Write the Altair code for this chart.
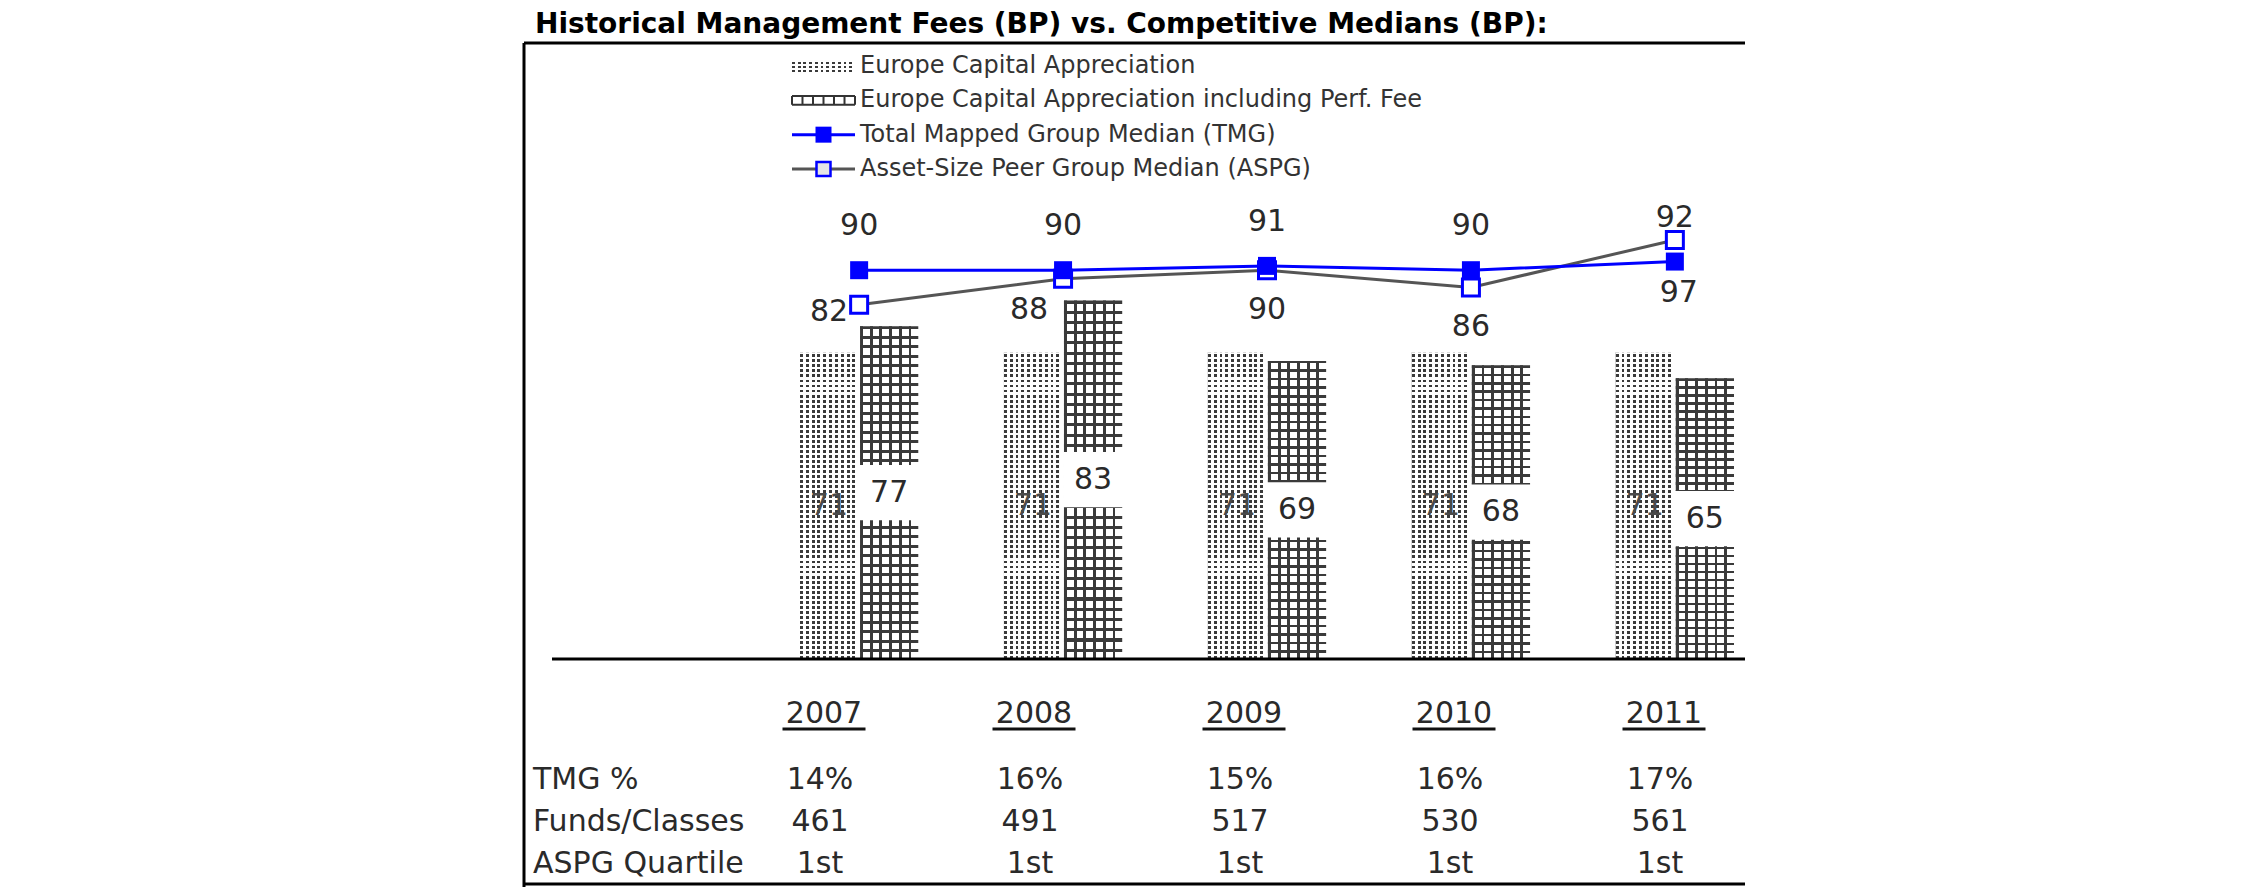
import altair as alt
import pandas as pd

# ---------------- data ----------------
years = ["2007", "2008", "2009", "2010", "2011"]
bar_names = ["Europe Capital Appreciation",
             "Europe Capital Appreciation including Perf. Fee"]
line_names = ["Total Mapped Group Median (TMG)",
              "Asset-Size Peer Group Median (ASPG)"]
eca_fee = [71, 71, 71, 71, 71]
eca_perf_fee = [77, 83, 69, 68, 65]
tmg_median = [90, 90, 91, 90, 92]
aspg_median = [82, 88, 90, 86, 97]
row_names = ["TMG %", "Funds/Classes", "ASPG Quartile"]
tmg_pct = ["14%", "16%", "15%", "16%", "17%"]
funds_classes = ["461", "491", "517", "530", "561"]
aspg_quartile = ["1st", "1st", "1st", "1st", "1st"]
chart_title = "Historical Management Fees (BP) vs. Competitive Medians (BP):"

bars = pd.DataFrame({
    "year": years * 2,
    "series": [bar_names[0]] * len(years) + [bar_names[1]] * len(years),
    "value": eca_fee + eca_perf_fee,
})
lines = pd.DataFrame({
    "year": years * 2,
    "series": [line_names[0]] * len(years) + [line_names[1]] * len(years),
    "value": tmg_median + aspg_median,
})
table = pd.DataFrame({
    "year": years * 3,
    "row": [r for r in row_names for _ in years],
    "text": tmg_pct + funds_classes + aspg_quartile,
})
header = pd.DataFrame({"year": years, "row": ["hdr"] * len(years)})
rows = pd.DataFrame({"row": row_names})
legend_names = bar_names + line_names
legend = pd.DataFrame({"series": legend_names})
one = pd.DataFrame({"k": [0]})
title_df = pd.DataFrame({"title": [chart_title]})

# ---------------- layout / style ----------------
W, H = 1221, 841
FONT = "DejaVu Sans"
TXT = "#2a2a2a"
BLUE = "#0000ff"
GREY_LINE = "#555555"


def stripes(n, duty, on, off, along_x):
    stops = []
    for i in range(n):
        a, b, c = i / n, (i + duty) / n, (i + 1) / n
        stops += [alt.GradientStop(offset=a, color=on),
                  alt.GradientStop(offset=b, color=on),
                  alt.GradientStop(offset=b, color=off),
                  alt.GradientStop(offset=min(c, 1.0), color=off)]
    if along_x:
        return alt.LinearGradient(gradient="linear", stops=stops, x1=0, x2=1, y1=0, y2=0)
    return alt.LinearGradient(gradient="linear", stops=stops, x1=0, x2=0, y1=0, y2=1)


CLEAR = "rgba(255,255,255,0)"
DOT_V = stripes(10, 0.5, "#3a3a3a", "#ffffff", True)
DOT_H = stripes(61, 0.42, "#ffffff", CLEAR, False)
GRID_V = stripes(6, 0.3, "#3a3a3a", "#ffffff", True)
GRID_H = stripes(35, 0.3, "#3a3a3a", CLEAR, False)


def yscale():
    return alt.Scale(domain=[-52.1, 142.6], nice=False, zero=False)


X = alt.X("year:N", scale=alt.Scale(type="band", domain=years, range=[276, 1210],
                                      paddingInner=0.42, paddingOuter=0), axis=None)
XO = alt.XOffset("series:N", scale=alt.Scale(domain=bar_names, paddingInner=0.03, paddingOuter=0))
YV = alt.Y("value:Q", scale=yscale(), axis=None)
YM = alt.Y("mid:Q", scale=yscale(), axis=None)
Y0 = alt.Y2(datum=0)

# ---------------- main plot ----------------
b_dot = alt.Chart(bars).transform_filter(alt.datum.series == bar_names[0])
b_grid = alt.Chart(bars).transform_filter(alt.datum.series == bar_names[1])

dot1 = b_dot.mark_bar(fill=DOT_V).encode(x=X, xOffset=XO, y=YV, y2=Y0)
dot2 = b_dot.mark_bar(fill=DOT_H).encode(x=X, xOffset=XO, y=YV, y2=Y0)
grid1 = b_grid.mark_bar(fill=GRID_V).encode(x=X, xOffset=XO, y=YV, y2=Y0)
grid2 = b_grid.mark_bar(fill=GRID_H).encode(x=X, xOffset=XO, y=YV, y2=Y0)

dot_lab = b_dot.transform_calculate(mid="datum.value / 2").mark_text(
    font=FONT, fontSize=30, color="#4a4a4a", baseline="middle").encode(
    x=X, xOffset=XO, y=YM, text="value:Q")
grid_box = b_grid.transform_calculate(mid="datum.value / 2").mark_point(
    shape="M-1,-0.92H1V0.92H-1Z", size=3600, filled=True, fill="white",
    strokeWidth=0, opacity=1).encode(x=X, xOffset=XO, y=YM)
grid_lab = b_grid.transform_calculate(mid="datum.value / 2").mark_text(
    font=FONT, fontSize=30, color=TXT, baseline="middle").encode(
    x=X, xOffset=XO, y=YM, text="value:Q")

axis_line = alt.Chart(one).mark_rule(color="black", strokeWidth=3).encode(
    x=alt.value(28), x2=alt.value(W),
    y=alt.YDatum(0, scale=yscale(), axis=None))

l_tmg = alt.Chart(lines).transform_filter(alt.datum.series == line_names[0])
l_aspg = alt.Chart(lines).transform_filter(alt.datum.series == line_names[1])

aspg_line = l_aspg.mark_line(color=GREY_LINE, strokeWidth=3).encode(x=X, y=YV)
tmg_line = l_tmg.mark_line(color=BLUE, strokeWidth=3).encode(x=X, y=YV)
aspg_pts = l_aspg.mark_point(shape="square", size=289, filled=True, fill="white",
                             stroke=BLUE, strokeWidth=3, opacity=1).encode(x=X, y=YV)
tmg_pts = l_tmg.mark_point(shape="square", size=324, filled=True, color=BLUE,
                           opacity=1).encode(x=X, y=YV)
tmg_lab = l_tmg.mark_text(font=FONT, fontSize=30, color=TXT, baseline="middle",
                          dy=-44).encode(x=X, y=YV, text="value:Q")

aspg_label_style = [("2007", -11, 7, "right"), ("2008", -15, 31, "right"),
                    ("2009", 0, 40, "center"), ("2010", 0, 40, "center"),
                    ("2011", 4, 53, "center")]
aspg_labs = [
    l_aspg.transform_filter(alt.datum.year == yr).mark_text(
        font=FONT, fontSize=30, color=TXT, baseline="middle", dx=dx, dy=dy, align=al
    ).encode(x=X, y=YV, text="value:Q")
    for yr, dx, dy, al in aspg_label_style
]

main = alt.layer(dot1, dot2, grid1, grid2, dot_lab, grid_box, grid_lab, axis_line,
                 aspg_line, tmg_line, aspg_pts, tmg_pts, tmg_lab, *aspg_labs)

# ---------------- table under the chart ----------------
XT = alt.X("year:N", scale=alt.Scale(type="point", domain=years, range=[300, 1140], padding=0),
           axis=None)
YT = alt.Y("row:N", scale=alt.Scale(type="point", domain=["hdr"] + row_names,
                                    range=[695, 821], padding=0), axis=None)

hdr_txt = alt.Chart(header).mark_text(font=FONT, fontSize=30, color=TXT, baseline="middle",
                                      dy=-24).encode(x=XT, y=YT, text="year:N")
hdr_line = alt.Chart(header).mark_tick(orient="horizontal", size=83, thickness=3,
                                       color="#111111", opacity=1, yOffset=-9).encode(x=XT, y=YT)
cells = alt.Chart(table).mark_text(font=FONT, fontSize=30, color=TXT, baseline="middle",
                                   dx=-4).encode(x=XT, y=YT, text="text:N")
row_lab = alt.Chart(rows).mark_text(font=FONT, fontSize=30, color=TXT, baseline="middle",
                                    align="left").encode(x=alt.value(9), y=YT, text="row:N")
tab = alt.layer(hdr_txt, hdr_line, cells, row_lab)

# ---------------- legend ----------------
YL = alt.Y("series:N", scale=alt.Scale(type="point", domain=legend_names, range=[23, 126],
                                       padding=0), axis=None)
SW_X = alt.value(299.5)
lg = alt.Chart(legend)
lg_dot1 = lg.transform_filter(alt.datum.series == legend_names[0]).mark_point(
    shape="M-1,-0.19H1V0.19H-1Z", size=3969, filled=True,
    fill=stripes(11, 0.5, "#3a3a3a", "#ffffff", True),
    strokeWidth=0, opacity=1).encode(x=SW_X, y=YL)
lg_dot2 = lg.transform_filter(alt.datum.series == legend_names[0]).mark_point(
    shape="M-1,-0.19H1V0.19H-1Z", size=3969, filled=True,
    fill=stripes(3, 0.42, "#ffffff", CLEAR, False),
    strokeWidth=0, opacity=1).encode(x=SW_X, y=YL)
grid_path = ("M-1,-0.14H1M-1,0.14H1" + "".join(
    "M%.3f,-0.14V0.14" % (-1 + k / 3) for k in range(7)))
lg_grid = lg.transform_filter(alt.datum.series == legend_names[1]).mark_point(
    shape=grid_path, size=3969, filled=False, stroke="#333333", strokeWidth=2,
    opacity=1).encode(x=SW_X, y=YL)
lg_tmg_line = lg.transform_filter(alt.datum.series == legend_names[2]).mark_point(
    shape="M-1,0H1", size=3969, filled=False, stroke=BLUE, strokeWidth=3,
    opacity=1).encode(x=SW_X, y=YL)
lg_tmg_pt = lg.transform_filter(alt.datum.series == legend_names[2]).mark_point(
    shape="square", size=256, filled=True, color=BLUE, opacity=1).encode(x=SW_X, y=YL)
lg_aspg_line = lg.transform_filter(alt.datum.series == legend_names[3]).mark_point(
    shape="M-1,0H1", size=3969, filled=False, stroke=GREY_LINE, strokeWidth=3,
    opacity=1).encode(x=SW_X, y=YL)
lg_aspg_pt = lg.transform_filter(alt.datum.series == legend_names[3]).mark_point(
    shape="square", size=196, filled=True, fill="#e6e6e6", stroke=BLUE, strokeWidth=2.5,
    opacity=1).encode(x=SW_X, y=YL)
lg_txt = lg.mark_text(font=FONT, fontSize=24, color="#333333", align="left",
                      baseline="middle").encode(x=alt.value(336), y=YL, text="series:N")
leg = alt.layer(lg_dot1, lg_dot2, lg_grid, lg_tmg_line, lg_tmg_pt, lg_aspg_line,
                lg_aspg_pt, lg_txt)

# ---------------- frame and title ----------------
frame = alt.layer(
    alt.Chart(one).mark_rule(color="black", strokeWidth=3).encode(
        x=alt.value(0), y=alt.value(0), y2=alt.value(H + 4)),
    alt.Chart(one).mark_rule(color="black", strokeWidth=3).encode(
        x=alt.value(0), x2=alt.value(W), y=alt.value(0)),
    alt.Chart(one).mark_rule(color="black", strokeWidth=3).encode(
        x=alt.value(0), x2=alt.value(W), y=alt.value(H)),
    alt.Chart(title_df).mark_text(font=FONT, fontSize=28, fontWeight="bold", color="#000000",
                                  align="left", baseline="alphabetic").encode(
        x=alt.value(11), y=alt.value(-10), text="title:N"),
)

chart = alt.layer(main, tab, leg, frame).resolve_scale(
    x="independent", y="independent"
).properties(
    width=W, height=H,
    autosize=alt.AutoSizeParams(type="none"),
    padding={"left": 516, "top": 35, "right": 497, "bottom": 3},
).configure_view(strokeWidth=0)

chart.save("out.html", embed_options={"renderer": "svg", "actions": False})
